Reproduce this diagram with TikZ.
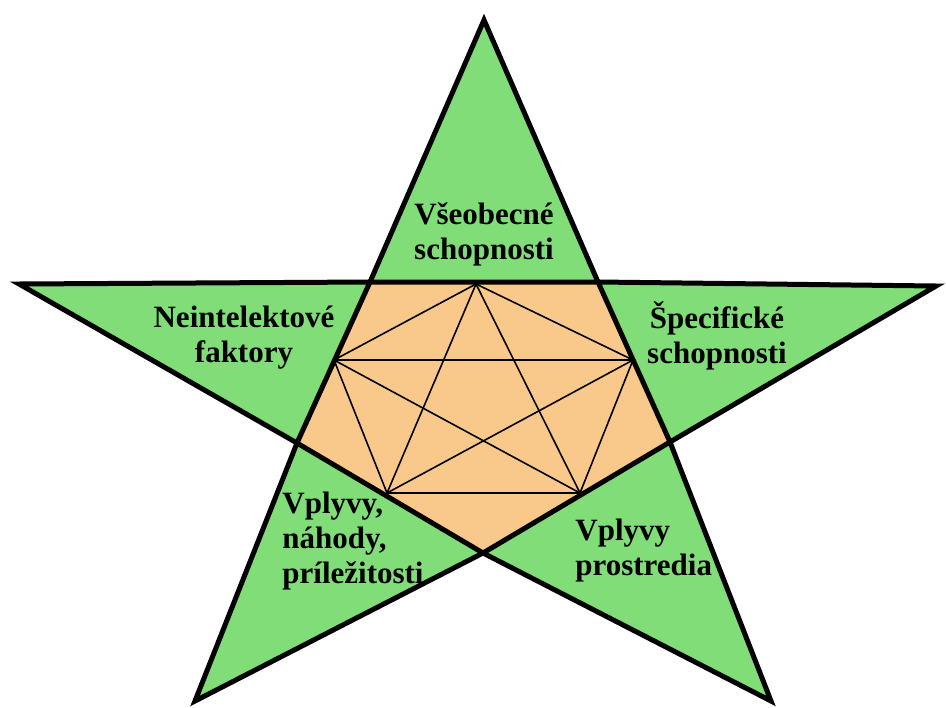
\documentclass[tikz,border=0pt]{standalone}
\usepackage{fontspec}
\setmainfont{Liberation Serif}
\usetikzlibrary{positioning}
\definecolor{armgreen}{RGB}{128,221,120}
\definecolor{coreorange}{RGB}{249,201,140}

\begin{document}
\begin{tikzpicture}[
  x=0.5pt, y=-0.5pt,
  font=\fontsize{15.5}{17.5}\selectfont\bfseries,
  armtext/.style={inner sep=0pt, align=center},
  heavy/.style={line width=2.5pt, line join=miter},
  thin/.style={line width=0.8pt}
]
  \useasboundingbox (0,0) rectangle (946,707);
  % star tips
  \coordinate (tT) at (484,20);
  \coordinate (tR) at (936,286);
  \coordinate (tBR) at (771,701);
  \coordinate (tBL) at (195,701);
  \coordinate (tL) at (19,284);
  % inner corners (pentagon)
  \coordinate (cUL) at (370,282);
  \coordinate (cUR) at (598,282);
  \coordinate (cR) at (670,442);
  \coordinate (cB) at (483,553);
  \coordinate (cL) at (297,443);
  % small pentagon inside
  \coordinate (kT) at (476,284);
  \coordinate (kR) at (633,360);
  \coordinate (kBR) at (580,493);
  \coordinate (kBL) at (387,493);
  \coordinate (kL) at (334,360);

  \fill[armgreen] (tT) -- (cUR) -- (tR) -- (cR) -- (tBR) -- (cB) -- (tBL) -- (cL) -- (tL) -- (cUL) -- cycle;
  \fill[coreorange] (cUL) -- (cUR) -- (cR) -- (cB) -- (cL) -- cycle;

  \foreach \a/\b in {kT/kR, kT/kBR, kT/kBL, kT/kL, kR/kBR, kR/kBL, kR/kL, kBR/kBL, kBR/kL, kBL/kL}
    \draw[thin] (\a) -- (\b);

  \draw[heavy] (tT) -- (cUR) -- (tR) -- (cR) -- (tBR) -- (cB) -- (tBL) -- (cL) -- (tL) -- (cUL) -- cycle;
  \draw[heavy] (cUL) -- (cUR) -- (cR) -- (cB) -- (cL) -- cycle;

  \node[armtext] (general) at (484,234) {Všeobecné\\schopnosti};
  \node[armtext] (nonintel) at (244,338) {Neintelektové\\faktory};
  \node[armtext] (specific) at (717,336) {Špecifické\\schopnosti};
  \node[armtext, align=left, anchor=west] (chance) at (282,541) {Vplyvy,\\náhody,\\príležitosti};
  \node[armtext, align=left, anchor=west] (milieu) at (575,551) {Vplyvy\\prostredia};
\end{tikzpicture}
\end{document}
